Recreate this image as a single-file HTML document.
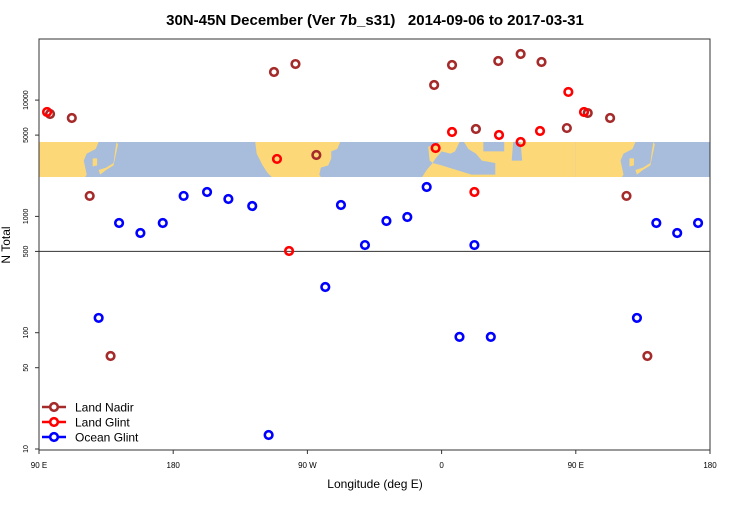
<!DOCTYPE html>
<html><head><meta charset="utf-8"><style>
body{margin:0;background:#fff}
svg{font-family:"Liberation Sans",sans-serif}
</style></head><body>
<svg id="c" width="750" height="500" xmlns="http://www.w3.org/2000/svg"></svg>
<script>
const nadirLon=[97.4,112,124,138,247.6,262,276,355,367,383,398,413,427,444,458,473,484,498];
const nadirVal=[7590,7020,1500,63,17450,20420,3370,13490,20030,5640,21700,24900,21270,5750,7740,7020,1500,63];
const glintLon=[95.4,249.6,257.7,356,367,382,398.5,413,426,445,455.5];
const glintVal=[7900,3120,504,3870,5320,1620,5010,4360,5420,11750,7900];
const oceanLon=[130,143.7,158,173,187,202.7,217,233,244,282,292.5,308.6,323,337,350,372,382,393,491,504,518,532];
const oceanVal=[134,877,720,877,1500,1620,1412,1228,13.2,247,1253,567,913,988,1790,92,567,92,134,877,720,877];
const xTickLon=[90,180,270,360,450,540];
const xTickLab=["90 E","180","90 W","0","90 E","180"];
const yTickVal=[10,50,100,500,1000,5000,10000];
const yTickLab=["10","50","100","500","1000","5000","10000"];

const L=39,R=710,T=39,B=450;
const X=lon=>L+(lon-90)*(R-L)/450;
const Y=v=>449-(Math.log10(v)-1)*116.3;
const LY=lat=>142+(45-lat)*35/15;
const svg=document.getElementById('c');
const NS='http://www.w3.org/2000/svg';
function mk(t,a,p){const e=document.createElementNS(NS,t);for(const k in a)e.setAttribute(k,a[k]);(p||svg).appendChild(e);return e;}

// map strip
const map=mk('g',{});


mk('rect',{x:L,y:142,width:R-L,height:35,fill:'#a7bddb'},map);
const land=[
 [[90,45],[130,45],[128,42],[122,40],[120,37],[122,31],[121,30],[90,30]],
 [[450,45],[490,45],[488,42],[482,40],[480,37],[482,31],[481,30],[450,30]],
 [[126,38],[129,38],[129,35],[126,34.5]],[[486,38],[489,38],[489,35],[486,34.5]],
 [[130,33],[135,34],[140,36],[141,41],[142,45],[143,44],[141,38],[140,35],[135,33],[131,31]],
 [[490,33],[495,34],[500,36],[501,41],[502,45],[503,44],[501,38],[500,35],[495,33],[491,31]],
 [[235,45],[236,40],[240,35],[243,32],[246,30],[279,30],[278,31],[279,34],[284,35],[286,38],[286,41],[290,42],[292,45]],
 [[351,43],[352,37],[354,36],[350,33],[347,30],[450,30],[450,45],[358,45],[358,43.5]]
];
const water=[
 [[354,36],[360,35],[370,33],[380,31],[396,31],[396,36],[387,37],[383,40],[378,42],[375,45],[372,45],[369,41],[366,40],[360,41],[356,38]],
 [[388,41],[388,45],[402,45],[402,41]],
 [[407,37],[408,45],[413,45],[414,37]]
];
land.forEach(p=>mk('polygon',{points:p.map(q=>X(q[0])+','+LY(q[1])).join(' '),fill:'#fdd879'},map));
water.forEach(p=>mk('polygon',{points:p.map(q=>X(q[0])+','+LY(q[1])).join(' '),fill:'#a7bddb'},map));

// frame
const fr=mk('rect',{x:L,y:T,width:R-L,height:B-T,fill:'none',stroke:'#333','stroke-width':1});


const hl=mk('line',{x1:L,x2:R,y1:Y(500),y2:Y(500),stroke:'#333','stroke-width':1});



// ticks
xTickLon.forEach((lon,i)=>{
 mk('line',{x1:X(lon),x2:X(lon),y1:B,y2:B+4,stroke:'#333'});
 const t=mk('text',{x:X(lon),y:B+18,'font-size':8,'text-anchor':'middle',fill:'#000'});
 t.textContent=xTickLab[i];
 
 
});
yTickVal.forEach((v,i)=>{
 mk('line',{x1:L-4,x2:L,y1:Y(v),y2:Y(v),stroke:'#333'});
 const t=mk('text',{x:0,y:0,'font-size':7,'text-anchor':'middle',fill:'#000',transform:`translate(28,${Y(v)}) rotate(-90)`});
 t.textContent=yTickLab[i];
 
 
});

// series
function series(lons,vals,col,name){
 const g=mk('g',{});
 
 
 lons.forEach((lon,i)=>{
  const c=mk('circle',{cx:X(lon),cy:Y(vals[i]),r:3.8,fill:'none',stroke:col,'stroke-width':2.6},g);
  
  
 });
}
series(nadirLon,nadirVal,'#a52a2a','land-nadir-series');
series(glintLon,glintVal,'#ff0000','land-glint-series');
series(oceanLon,oceanVal,'#0000ff','ocean-glint-series');

// legend
const leg=[['Land Nadir','#a52a2a'],['Land Glint','#ff0000'],['Ocean Glint','#0000ff']];
leg.forEach((d,i)=>{
 const y=407+i*15;
 const g=mk('g',{});
 
 
 mk('line',{x1:42,x2:66,y1:y,y2:y,stroke:d[1],'stroke-width':2.6},g);
 mk('circle',{cx:54,cy:y,r:3.8,fill:'#fff',stroke:d[1],'stroke-width':2.6},g);
 const t=mk('text',{x:75,y:y+4.5,'font-size':12,fill:'#000'},g);
 t.textContent=d[0];
});

// titles
const ti=mk('text',{x:375,y:25,'font-size':15,'font-weight':'bold','text-anchor':'middle',fill:'#000'});
ti.textContent='30N-45N December (Ver 7b_s31)   2014-09-06 to 2017-03-31';
ti.setAttribute('xml:space','preserve');ti.style.whiteSpace='pre';


const xt=mk('text',{x:375,y:488,'font-size':12,'text-anchor':'middle',fill:'#000'});
xt.textContent='Longitude (deg E)';


const yt=mk('text',{x:0,y:0,'font-size':12,'text-anchor':'middle',fill:'#000',transform:'translate(10,245) rotate(-90)'});
yt.textContent='N Total';


</script>
</body></html>
